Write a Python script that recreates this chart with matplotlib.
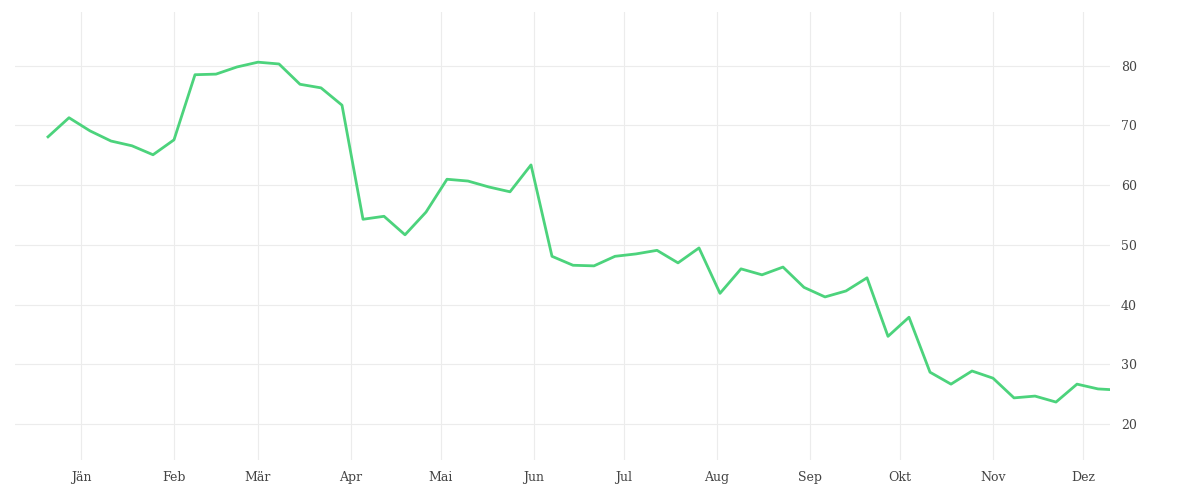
import numpy as np
import pandas as pd
import matplotlib.pyplot as plt
import matplotlib.dates as mdates

# weekly values
start = '2018-12-21'
values = [68.1, 71.3, 69.1, 67.4, 66.6, 65.1, 67.6, 78.5, 78.6, 79.8, 80.6, 80.3, 76.9,
          76.3, 73.4, 54.3, 54.8, 51.7, 55.5, 61.0, 60.7, 59.7, 58.9, 63.4, 48.1, 46.6,
          46.5, 48.1, 48.5, 49.1, 47.0, 49.5, 41.9, 46.0, 45.0, 46.3, 42.9, 41.3, 42.3,
          44.5, 34.7, 37.9, 28.7, 26.7, 28.9, 27.7, 24.4, 24.7, 23.7, 26.7, 25.9, 25.7]
month_labels = ['Jän', 'Feb', 'Mär', 'Apr', 'Mai', 'Jun', 'Jul', 'Aug', 'Sep', 'Okt', 'Nov', 'Dez']
y_ticks = [20, 30, 40, 50, 60, 70, 80]

dates = pd.date_range(start, periods=len(values), freq='7D')
month_starts = pd.date_range('2019-01-01', periods=12, freq='MS')

fig = plt.figure(figsize=(12, 5), dpi=100)
ax = fig.add_axes([0.0125, 0.08, 0.9125, 0.896])

ax.plot(dates, values, color='#4cd37c', lw=2.0, solid_joinstyle='round')

ax.set_xlim(pd.Timestamp('2018-12-10'), pd.Timestamp('2019-12-10'))
ax.set_ylim(14, 89)
ax.set_xticks(month_starts)
ax.set_xticklabels(month_labels)
ax.set_yticks(y_ticks)
ax.yaxis.tick_right()
ax.grid(True, color='#ececec', lw=0.8)
ax.set_axisbelow(True)
for s in ax.spines.values():
    s.set_visible(False)
ax.tick_params(length=0, labelsize=9, colors='#444444', pad=8)
for lbl in ax.get_xticklabels() + ax.get_yticklabels():
    lbl.set_family('DejaVu Serif')

fig.savefig('out.png')
